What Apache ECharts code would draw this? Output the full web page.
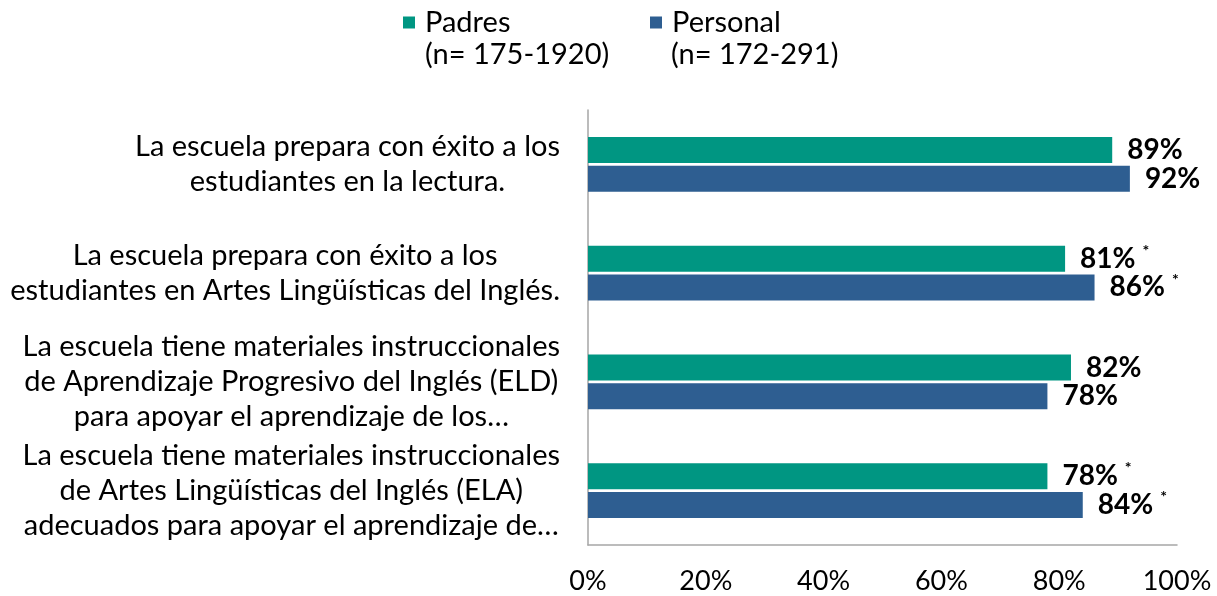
<!DOCTYPE html>
<html lang="es">
<head>
    <meta charset="UTF-8">
    <title>Escuela - Padres y Personal</title>
    <script src="https://cdn.jsdelivr.net/npm/echarts@6/dist/echarts.min.js"></script>
    <style>
        html, body { margin: 0; padding: 0; background: #fff; }
        #main { width: 1217px; height: 596px; }
    </style>
</head>
<body>
<div id="main"></div>
<script>
    // datos del grafico
    var categories = [
        'La escuela prepara con éxito a los\nestudiantes en la lectura.',
        'La escuela prepara con éxito a los\nestudiantes en Artes Lingüísticas del Inglés.',
        'La escuela tiene materiales instruccionales\nde Aprendizaje Progresivo del Inglés (ELD)\npara apoyar el aprendizaje de los…',
        'La escuela tiene materiales instruccionales\nde Artes Lingüísticas del Inglés (ELA)\nadecuados para apoyar el aprendizaje de…'
    ];
    var seriesNames = ['Padres', 'Personal'];
    var nLabels = ['(n= 175-1920)', '(n= 172-291)'];
    var padresValues = [89, 81, 82, 78];
    var personalValues = [92, 86, 78, 84];
    // diferencia significativa (*)
    var padresSig = [false, true, false, true];
    var personalSig = [false, true, false, true];

    var FONT = 'Lato';
    var colors = ['#009682', '#2E5E91'];

    function valueLabel(sig) {
        return function (p) {
            var s = '{v|' + p.value + '%}';
            if (sig[p.dataIndex]) s += '{s|*}';
            return s;
        };
    }

    var labelRich = {
        v: { fontFamily: FONT, fontWeight: 'bold', fontSize: 28, color: '#000' },
        s: { fontFamily: FONT, fontWeight: 'bold', fontSize: 16, color: '#000', padding: [0, 0, 16, 7] }
    };

    var myChart = echarts.init(document.getElementById('main'));
    var option = {
        animation: false,
        grid: { left: 588, right: 40, top: 110, bottom: 51, containLabel: false },
        legend: [
            {
                data: [seriesNames[0]], left: 403, top: 8, padding: 0,
                icon: 'rect', itemWidth: 12, itemHeight: 12,
                textStyle: { fontFamily: FONT, fontSize: 29, color: '#000', padding: [0, 0, 0, 5] }
            },
            {
                data: [seriesNames[1]], left: 650, top: 8, padding: 0,
                icon: 'rect', itemWidth: 12, itemHeight: 12,
                textStyle: { fontFamily: FONT, fontSize: 29, color: '#000', padding: [0, 0, 0, 5] }
            }
        ],
        graphic: [
            { type: 'text', left: 425, top: 40, style: { text: nLabels[0], font: '29px Lato', fill: '#000' } },
            { type: 'text', left: 671, top: 40, style: { text: nLabels[1], font: '29px Lato', fill: '#000' } }
        ],
        xAxis: {
            type: 'value', min: 0, max: 100, interval: 20,
            axisLine: { show: true, lineStyle: { color: '#A6A6A6', width: 1.5 } },
            axisTick: { show: false },
            splitLine: { show: false },
            axisLabel: { formatter: '{value}%', fontFamily: FONT, fontSize: 27, color: '#000', margin: 23 }
        },
        yAxis: {
            type: 'category', inverse: true, data: categories,
            axisLine: { show: true, lineStyle: { color: '#A6A6A6', width: 1.5 } },
            axisTick: { show: false },
            axisLabel: {
                margin: 28,
                formatter: function (v) {
                    return '{c|' + v.split('\n').join('}\n{c|') + '}';
                },
                rich: {
                    c: { align: 'center', fontFamily: FONT, fontSize: 29, color: '#000', lineHeight: 35 }
                }
            }
        },
        series: [
            {
                name: seriesNames[0], type: 'bar', data: padresValues,
                barWidth: 26, barGap: '10%',
                itemStyle: { color: colors[0] },
                label: { show: true, position: 'right', distance: 15, formatter: valueLabel(padresSig), rich: labelRich }
            },
            {
                name: seriesNames[1], type: 'bar', data: personalValues,
                barWidth: 26, barGap: '10%',
                itemStyle: { color: colors[1] },
                label: { show: true, position: 'right', distance: 15, formatter: valueLabel(personalSig), rich: labelRich }
            }
        ]
    };
    myChart.setOption(option);
</script>
</body>
</html>
